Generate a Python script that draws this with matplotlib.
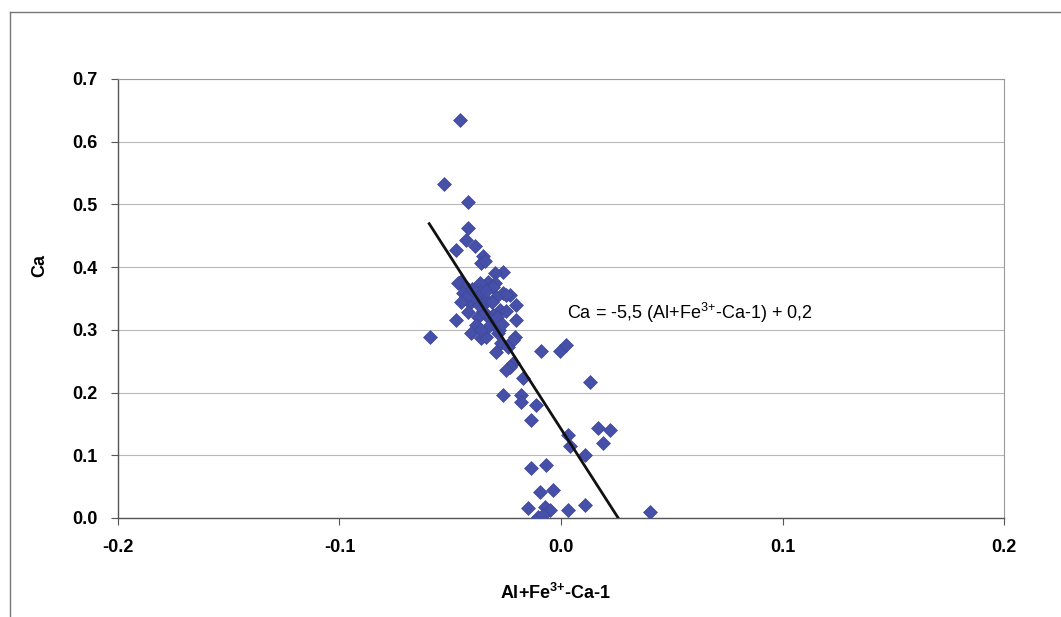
import matplotlib
matplotlib.use("Agg")
import matplotlib.pyplot as plt
from matplotlib.lines import Line2D
import numpy as np

plt.rcParams["font.family"] = ["Liberation Sans", "DejaVu Sans"]
plt.rcParams["mathtext.fontset"] = "custom"
plt.rcParams["mathtext.rm"] = "Liberation Sans"
plt.rcParams["mathtext.bf"] = "Liberation Sans:bold"

# Al+Fe3+-Ca-1 (x) versus Ca (y), per analysis
x_vals = [
    -0.0456, -0.0527, -0.0419, -0.0419, -0.0428, -0.0389, -0.0473, -0.0351,
    -0.0360, -0.0344, -0.0261, -0.0299, -0.0456, -0.0329, -0.0464, -0.0366,
    -0.0299, -0.0428, -0.0306, -0.0441, -0.0366, -0.0261, -0.0231, -0.0248,
    -0.0293, -0.0338, -0.0411, -0.0351, -0.0203, -0.0276, -0.0419, -0.0374,
    -0.0306, -0.0473, -0.0203, -0.0383, -0.0306, -0.0405, -0.0360, -0.0338,
    -0.0284, -0.0209, -0.0591, -0.0270, -0.0216, -0.0239, -0.0293, -0.0090,
    -0.0006, 0.0023, -0.0216, -0.0231, -0.0248, -0.0171, 0.0129, -0.0261,
    -0.0180, -0.0180, -0.0113, -0.0135, 0.0032, 0.0167, 0.0219, 0.0039,
    0.0189, 0.0107, -0.0135, -0.0068, -0.0096, -0.0036, -0.0149, -0.0073,
    -0.0051, -0.0104, -0.0081, 0.0032, 0.0107, 0.0400,
    -0.0350, -0.0320, -0.0390, -0.0430, -0.0280, -0.0330, -0.0370, -0.0250,
    -0.0310, -0.0400, -0.0340, -0.0290, -0.0360, -0.0450, -0.0265,
]
ca_vals = [
    0.634, 0.532, 0.504, 0.463, 0.443, 0.434, 0.427, 0.417,
    0.407, 0.409, 0.393, 0.391, 0.377, 0.377, 0.375, 0.375,
    0.375, 0.369, 0.369, 0.359, 0.361, 0.359, 0.356, 0.356,
    0.353, 0.348, 0.343, 0.340, 0.340, 0.332, 0.329, 0.321,
    0.324, 0.316, 0.316, 0.308, 0.311, 0.295, 0.287, 0.289,
    0.295, 0.289, 0.289, 0.279, 0.284, 0.273, 0.265, 0.266,
    0.266, 0.276, 0.247, 0.241, 0.236, 0.223, 0.217, 0.196,
    0.196, 0.185, 0.180, 0.156, 0.132, 0.144, 0.140, 0.114,
    0.120, 0.100, 0.080, 0.085, 0.042, 0.045, 0.016, 0.018,
    0.013, 0.002, 0.005, 0.013, 0.021, 0.010,
    0.330, 0.318, 0.350, 0.352, 0.300, 0.305, 0.340, 0.330,
    0.345, 0.365, 0.362, 0.320, 0.300, 0.345, 0.310,
]

# fitted trend, drawn over its own x range
fit_slope = -5.5
fit_intercept = 0.142
fit_x = [-0.0595, 0.0258]

x_ticks = [-0.2, -0.1, 0.0, 0.1, 0.2]
y_ticks = [0.0, 0.1, 0.2, 0.3, 0.4, 0.5, 0.6, 0.7]

fig = plt.figure(figsize=(10.61, 6.17), dpi=100)
fig.patch.set_facecolor("white")
ax = fig.add_axes([0.1112, 0.1605, 0.8351, 0.7115])

# chart border
fig.add_artist(Line2D([0.0094, 0.0094], [0.0, 0.981], transform=fig.transFigure,
                      color="#777777", lw=1.0))
fig.add_artist(Line2D([0.0094, 1.0], [0.981, 0.981], transform=fig.transFigure,
                      color="#777777", lw=1.0))

ax.set_xlim(-0.2, 0.2)
ax.set_ylim(0.0, 0.7)
ax.set_xticks(x_ticks)
ax.set_yticks(y_ticks)
ax.set_xticklabels([f"{t:.1f}" for t in x_ticks], fontsize=13, fontweight="bold")
ax.set_yticklabels([f"{t:.1f}" for t in y_ticks], fontsize=13, fontweight="bold")
ax.tick_params(axis="both", direction="out", length=5, width=0.8, color="#555555")
ax.tick_params(axis="x", pad=10)
ax.tick_params(axis="y", pad=10)

ax.yaxis.grid(True, color="#b8b8b8", lw=0.8)
ax.set_axisbelow(True)
for side in ("left", "bottom"):
    ax.spines[side].set_color("#555555")
    ax.spines[side].set_linewidth(1.0)
for side in ("top", "right"):
    ax.spines[side].set_color("#999999")
    ax.spines[side].set_linewidth(0.8)

ax.scatter(x_vals, ca_vals, marker="D", s=50, color="#4650A8",
           edgecolors="#3c4699", linewidths=0.5, zorder=3)

fx = np.array(fit_x)
ax.plot(fx, fit_slope * fx + fit_intercept, color="#111111", lw=2.0, zorder=4)

ax.text(0.0025, 0.327, r"Ca = -5,5 (Al+Fe$^{\mathrm{3{+}}}$-Ca-1) + 0,2",
        fontsize=13, ha="left", va="center", zorder=5)

ax.set_xlabel(r"Al+Fe$^{\mathbf{3{+}}}$-Ca-1", fontsize=13, fontweight="bold")
ax.xaxis.set_label_coords(0.494, -0.148)
ax.set_ylabel("Ca", fontsize=13, fontweight="bold")
ax.yaxis.set_label_coords(-0.079, 0.574)

fig.savefig("out.png", dpi=100, facecolor="white")
